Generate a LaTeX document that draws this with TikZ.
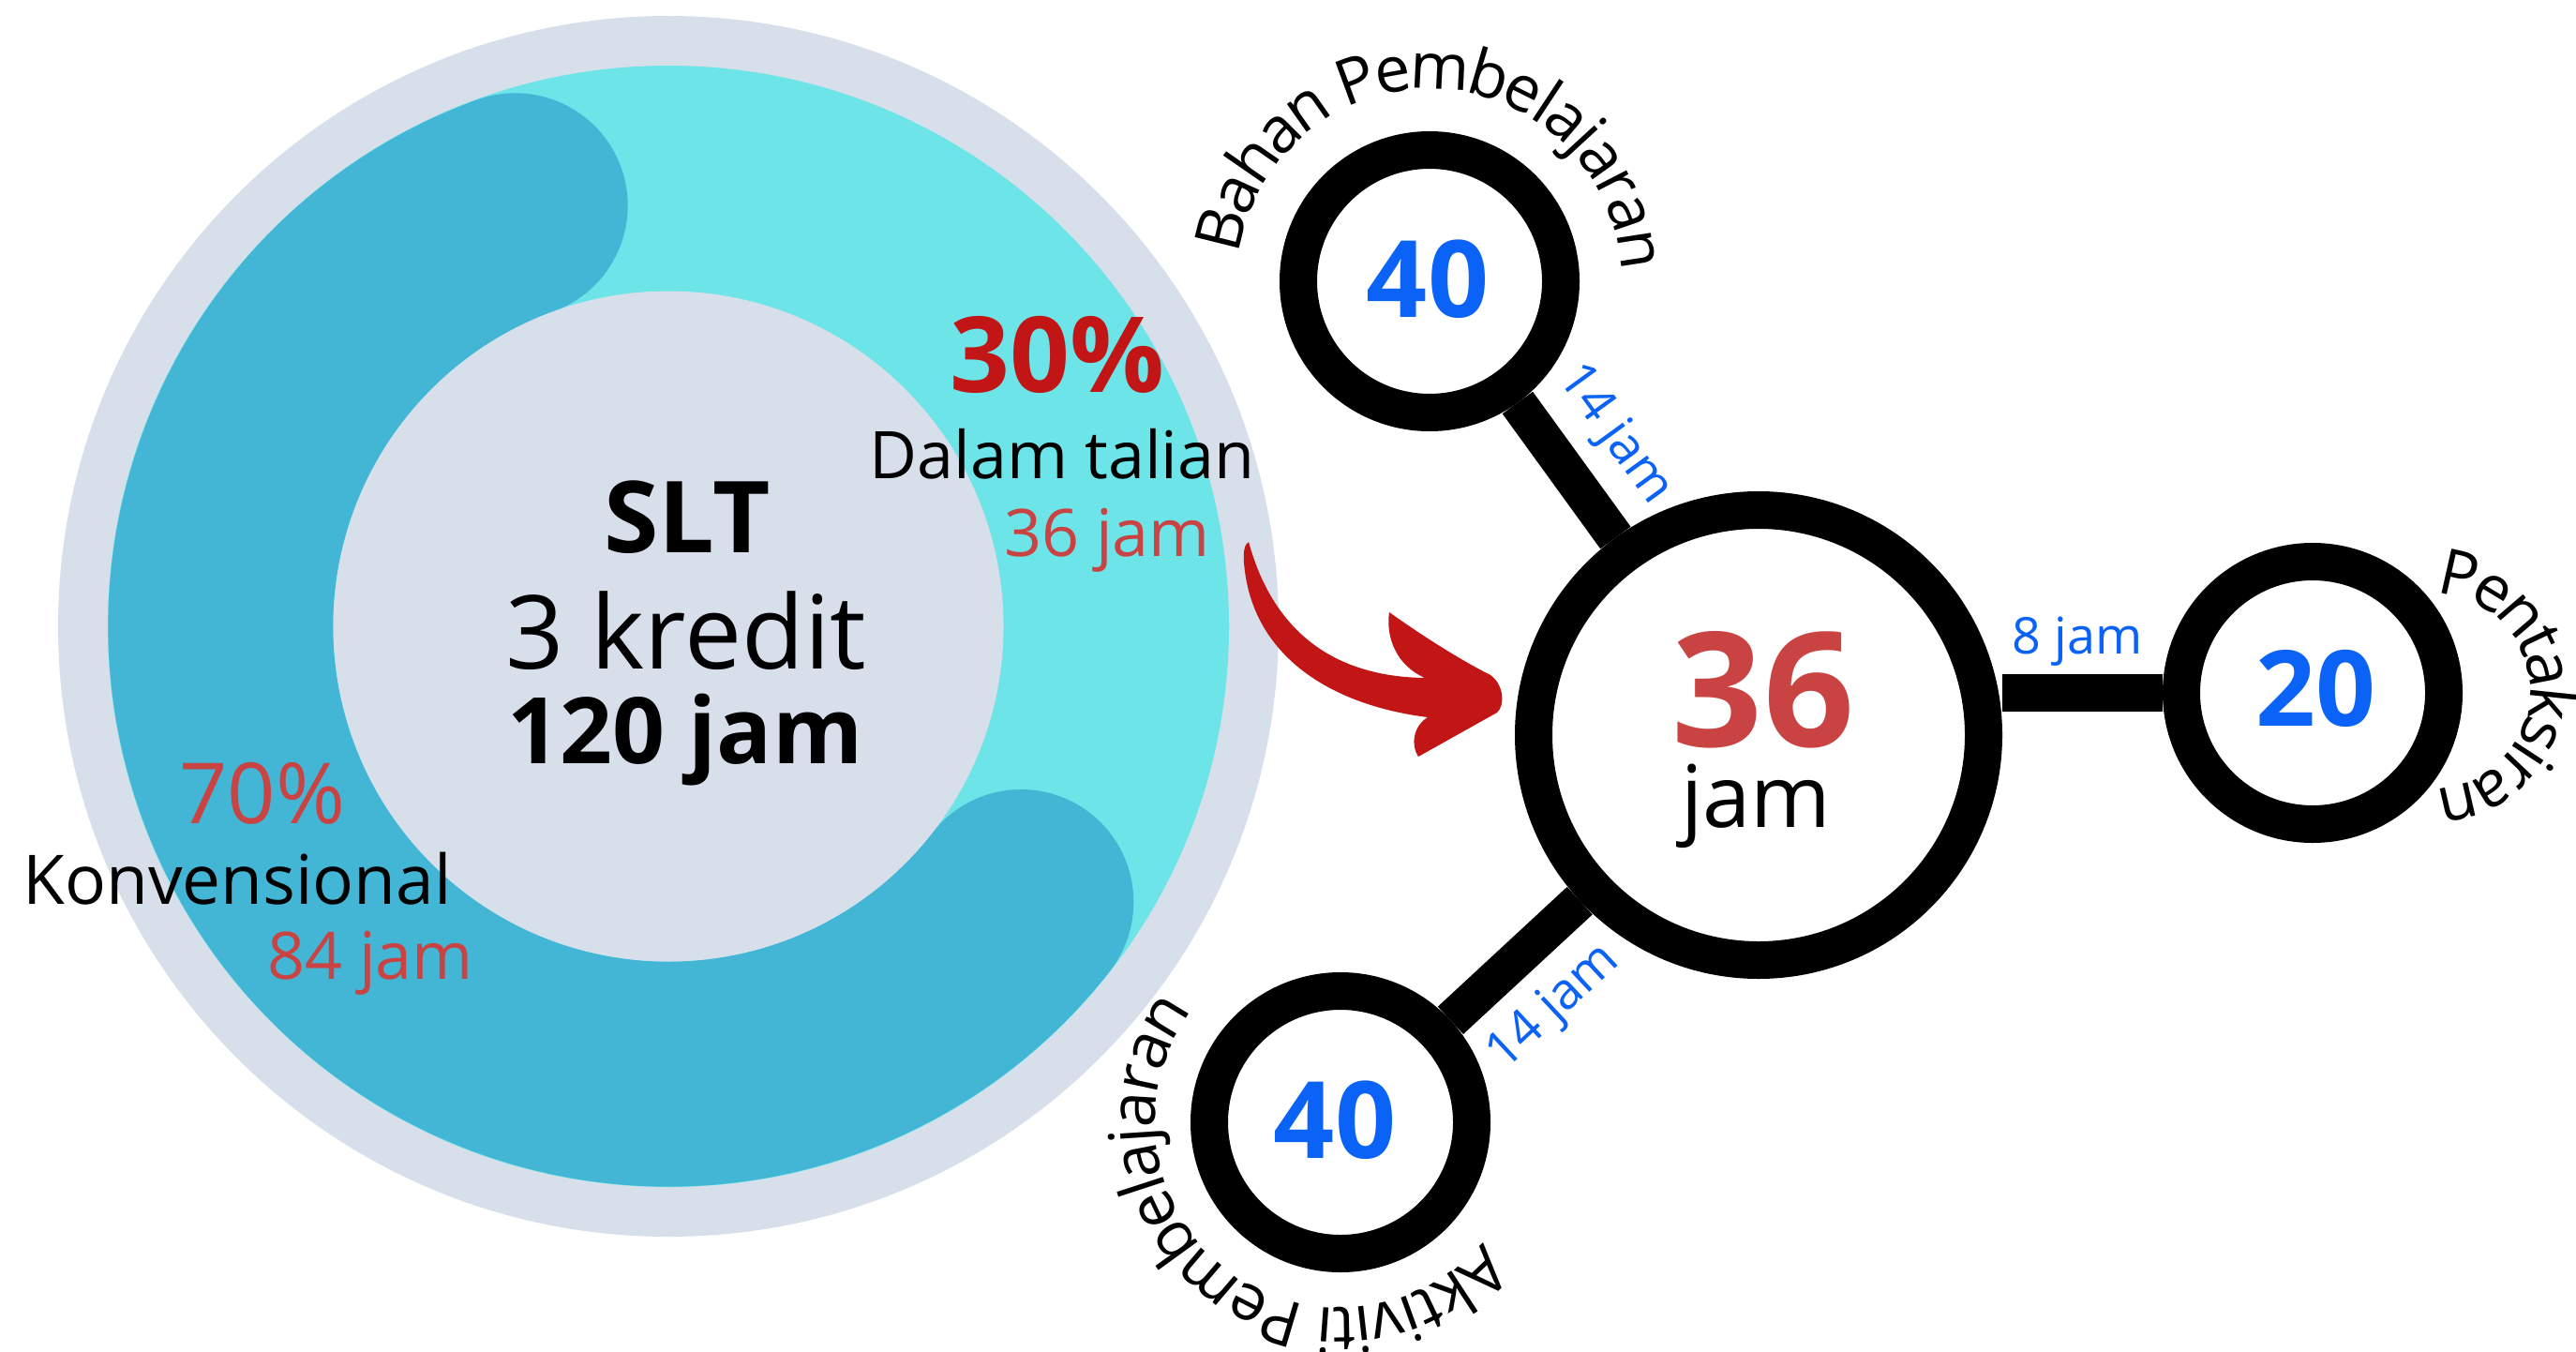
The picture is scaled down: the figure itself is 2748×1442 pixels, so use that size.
\documentclass[tikz,border=0pt]{standalone}
\usepackage{fontspec}
\setmainfont{Open Sans}
\usetikzlibrary{decorations.text}
\definecolor{palecol}{HTML}{D6DFEA}
\definecolor{turqcol}{HTML}{6DE4E8}
\definecolor{arccol}{HTML}{43B6D6}
\definecolor{redcol}{HTML}{C21616}
\definecolor{softred}{HTML}{C94343}
\definecolor{numblue}{HTML}{0B62F6}
\newcommand\myfs[1]{\fontsize{#1pt}{#1pt}\selectfont}
\newcommand\curvefont{\fontsize{68pt}{80pt}\selectfont}
\begin{document}
\begin{tikzpicture}[x=1pt,y=1pt,
  ring/.style={circle,draw=black,line width=40pt,fill=white,inner sep=0pt},
  bar/.style={line width=40pt,draw=black},
  txt/.style={inner sep=0pt,anchor=base},
  jamlabel/.style={inner sep=0pt,text=numblue,font=\myfs{54}},
  curved/.style={decorate,decoration={text along path,text align=center,raise=-20pt,text={|\curvefont|#1}}}
]
\fill[white] (0,0) rectangle (2748,-1442);
\useasboundingbox (0,0) rectangle (2748,-1442);

% donut
\coordinate (O) at (713,-668);
\fill[palecol] (O) circle[radius=651];
\fill[turqcol] (O) circle[radius=598];
\draw[arccol,line width=240pt,line cap=round] ([shift={(110:477.5)}]O) arc[start angle=110,end angle=322,radius=477.5];
\fill[palecol] (O) circle[radius=357.5];

\node[txt,font=\myfs{106}\bfseries] (slt) at (733,-589) {SLT};
\node[txt,font=\myfs{109}] (kredit) at (732,-713) {3 kredit};
\node[txt,font=\myfs{98}\bfseries] (jam120) at (731,-814) {120 jam};
\node[txt,font=\myfs{112}\bfseries,text=redcol] (p30) at (1128,-418) {30\%};
\node[txt,font=\myfs{70}] (dalam) at (1133,-510) {Dalam talian};
\node[txt,font=\myfs{70},text=softred] (j36) at (1181,-593) {36 jam};
\node[txt,font=\myfs{90},text=softred] (p70) at (280,-878) {70\%};
\node[txt,font=\myfs{73}] (konv) at (253,-964) {Konvensional};
\node[txt,font=\myfs{70},text=softred] (j84) at (395,-1044) {84 jam};

% arrow
\fill[redcol] (1332,-578) .. controls (1360,-680) and (1430,-722) .. (1520,-723)
  .. controls (1490,-710) and (1478,-680) .. (1482,-653)
  .. controls (1520,-680) and (1560,-705) .. (1590,-720)
  .. controls (1604,-730) and (1606,-752) .. (1597,-760)
  -- (1513,-807)
  .. controls (1505,-795) and (1507,-775) .. (1523,-765)
  .. controls (1420,-752) and (1335,-700) .. (1327,-600)
  .. controls (1326,-588) and (1328,-580) .. cycle;

% circles
\node[ring,minimum size=280pt] (bahan) at (1525,-300) {};
\node[ring,minimum size=480pt] (big) at (1876,-784) {};
\node[ring,minimum size=280pt] (pent) at (2467,-739) {};
\node[ring,minimum size=280pt] (aktiviti) at (1430,-1197) {};

\draw[bar] (bahan) -- (big);
\draw[bar] (aktiviti) -- (big);
\draw[bar] (pent.west) -- (pent.west -| big.east);

\node[txt,font=\myfs{114}\bfseries,text=numblue] (n40a) at (1523,-338) {40};
\node[txt,font=\myfs{112}\bfseries,text=numblue] (n20) at (2470,-774) {20};
\node[txt,font=\myfs{114}\bfseries,text=numblue] (n40b) at (1424,-1235) {40};
\node[txt,font=\myfs{170}\bfseries,text=softred] (n36) at (1881,-796) {36};
\node[txt,font=\myfs{92}] (njam) at (1873,-882) {jam};

\node[jamlabel] (l8) at (2216,-684) {8 jam};
\node[jamlabel,rotate=-54] (l14a) at (1722,-464) {14 jam};
\node[jamlabel,rotate=43] (l14b) at (1658,-1075) {14 jam};

% curved labels
\coordinate (pentarc) at (2595,-737);
\path[curved={Bahan Pembelajaran}] ([shift={(172:225)}]bahan.center) arc[start angle=172,end angle=3,radius=225];
\path[curved={Pentaksiran}] ([shift={(88:124)}]pentarc) arc[start angle=88,end angle=-88,radius=124];
\path[curved={Aktiviti Pembelajaran}] ([shift={(-41:218)}]aktiviti.center) arc[start angle=-41,end angle=-216.5,radius=218];
\end{tikzpicture}
\end{document}
